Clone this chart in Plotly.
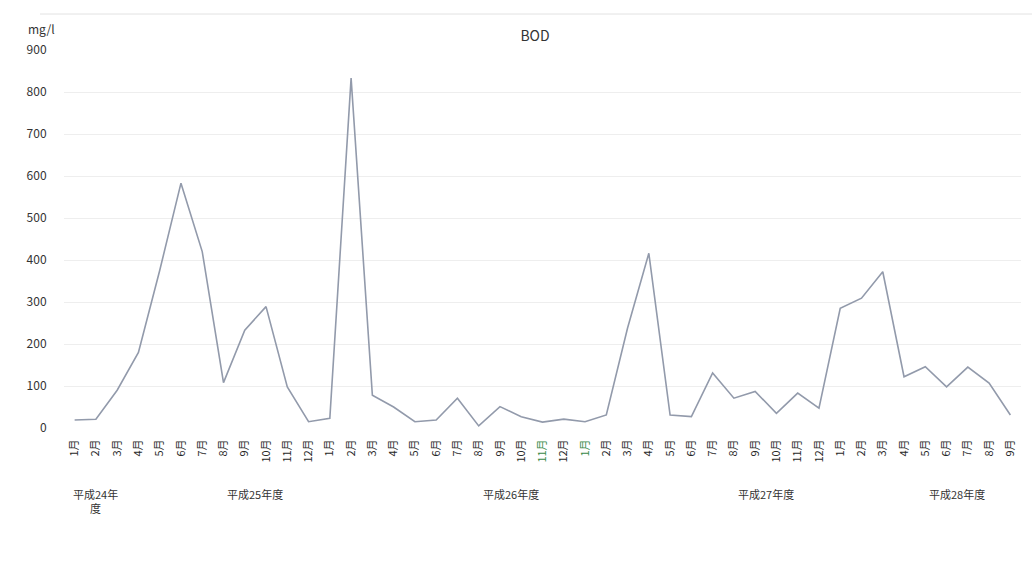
import plotly.graph_objects as go

# Monthly BOD readings (mg/l), Jan of FY H24 through Sep of FY H28
months = ["1月", "2月", "3月", "4月", "5月", "6月", "7月", "8月", "9月", "10月", "11月", "12月",
          "1月", "2月", "3月", "4月", "5月", "6月", "7月", "8月", "9月", "10月", "11月", "12月",
          "1月", "2月", "3月", "4月", "5月", "6月", "7月", "8月", "9月", "10月", "11月", "12月",
          "1月", "2月", "3月", "4月", "5月", "6月", "7月", "8月", "9月"]
bod = [19, 21, 90, 180, 375, 583, 420, 108, 233, 289, 98, 15,
       23, 833, 78, 50, 15, 19, 71, 5, 51, 27, 14, 21,
       15, 31, 238, 416, 31, 27, 131, 71, 87, 35, 83, 47,
       285, 309, 372, 122, 146, 98, 145, 107, 31]

# Fiscal-year groups: label and (first, last) month index
fy_labels = ["平成24年<br>度", "平成25年度", "平成26年度", "平成27年度", "平成28年度"]
fy_spans = [(0, 2), (3, 14), (15, 26), (27, 38), (39, 44)]

# Month labels printed in green
green_idx = [22, 24]

W, H = 1032, 564
ML, MR, MT, MB = 64, 11, 50, 136
PW, PH = W - ML - MR, H - MT - MB
FONT = "Noto Sans CJK JP, Noto Sans, sans-serif"


def px_to_paper(px, py):
    """Convert page pixel coordinates to plot-area paper coordinates."""
    return (px - ML) / PW, (H - MB - py) / PH


x = list(range(len(bod)))
ticktext = [f'<span style="color:#3a8a4a">{m}</span>' if i in green_idx else m
            for i, m in enumerate(months)]

fig = go.Figure()
fig.add_trace(go.Scatter(
    x=x, y=bod, mode="lines",
    line=dict(color="#929aab", width=1.6),
    hoverinfo="y", showlegend=False,
))

fig.update_xaxes(
    range=[-0.5, len(bod) - 0.5],
    tickvals=x, ticktext=ticktext, tickangle=-90,
    ticks="outside", ticklen=6, tickcolor="rgba(0,0,0,0)",
    tickfont=dict(family=FONT, size=11, color="#2a2a2a"),
    showgrid=False, zeroline=False, showline=False,
)
fig.update_yaxes(
    range=[0, 900], tick0=0, dtick=100,
    ticks="outside", ticklen=14, tickcolor="rgba(0,0,0,0)",
    tickfont=dict(family=FONT, size=12, color="#333333"),
    showgrid=True, gridcolor="#eeeeee", gridwidth=1,
    zeroline=False, showline=False,
)

# Fiscal-year group labels below the month labels
for lab, (a, b) in zip(fy_labels, fy_spans):
    fig.add_annotation(
        x=(a + b) / 2, xref="x", y=px_to_paper(0, 484)[1], yref="paper",
        text=lab, showarrow=False, yanchor="top", align="center",
        font=dict(family=FONT, size=11, color="#333333"),
    )

# Unit label above the value axis
ux, uy = px_to_paper(41, 29)
fig.add_annotation(
    x=ux, xref="paper", y=uy, yref="paper",
    text="mg/l", showarrow=False, xanchor="center", yanchor="middle",
    font=dict(family=FONT, size=12, color="#333333"),
)

fig.update_layout(
    width=W, height=H,
    margin=dict(l=ML, r=MR, t=MT, b=MB),
    paper_bgcolor="white", plot_bgcolor="white",
    title=dict(text="BOD", x=535 / W, xref="container", xanchor="center",
               y=1 - 36 / H, yref="container", yanchor="middle",
               font=dict(family=FONT, size=14, color="#333333")),
)

# Faint chart-area border along the top edge
bx0, by = px_to_paper(40, 14)
bx1, _ = px_to_paper(W, 14)
fig.add_shape(type="line", xref="paper", yref="paper",
              x0=bx0, x1=bx1, y0=by, y1=by,
              line=dict(color="#e2e2e2", width=1))

fig.write_html("out.html")
